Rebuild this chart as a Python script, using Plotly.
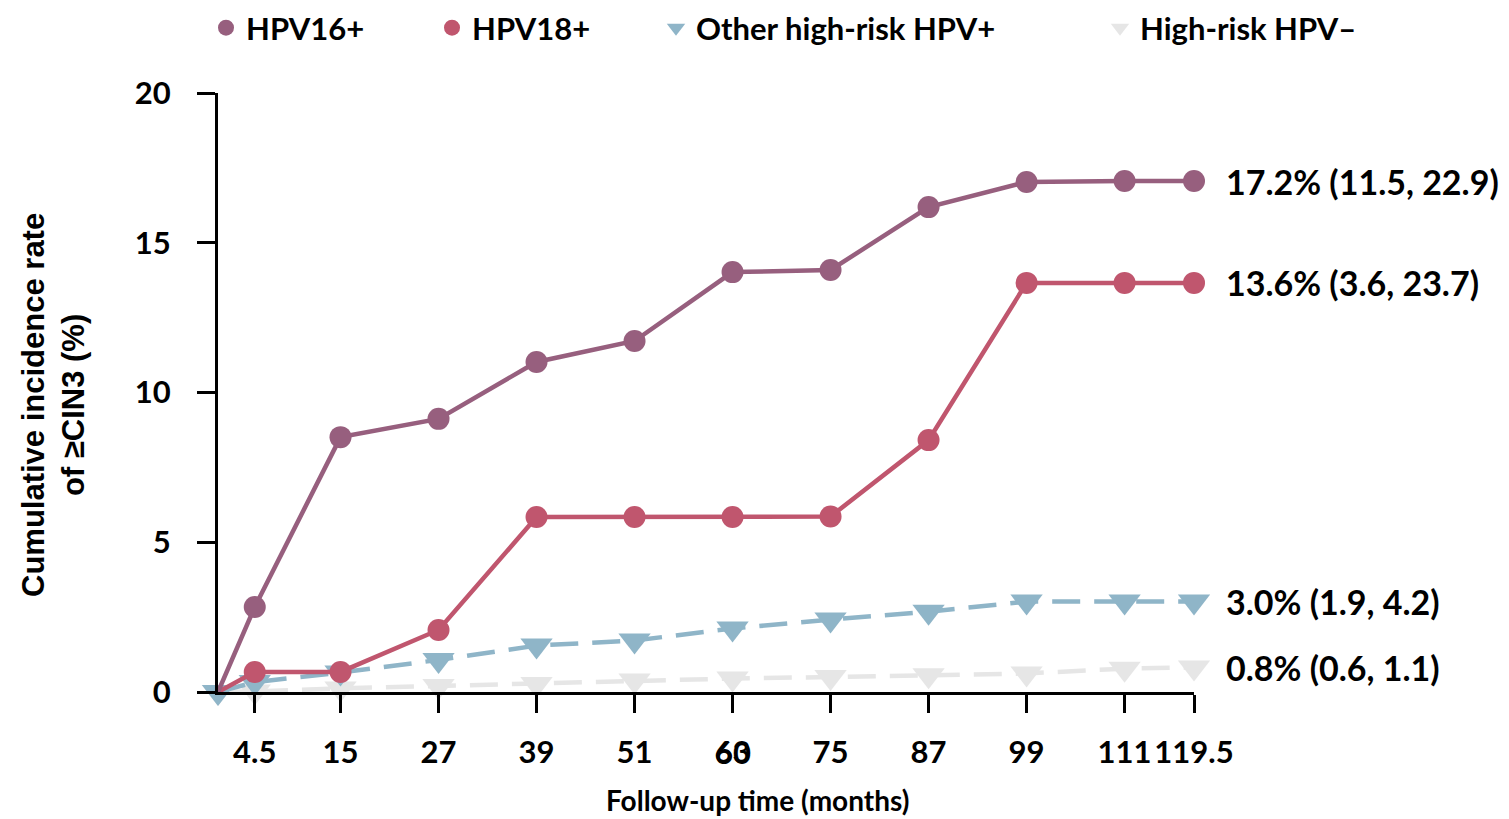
import plotly.graph_objects as go

months = [0, 4.5, 15, 27, 39, 51, 63, 75, 87, 99, 111, 119.5]
tick_vals = [4.5, 15, 27, 39, 51, 63, 75, 87, 99, 111, 119.5]
tick_text = ["4.5", "15", "27", "39", "51", "63", "75", "87", "99", "111", "119.5"]
overlap_label = "60"
overlap_at = 63

hpv16 = [0, 2.84, 8.51, 9.12, 11.02, 11.72, 14.02, 14.09, 16.19, 17.03, 17.06, 17.06]
hpv18 = [0, 0.67, 0.67, 2.07, 5.84, 5.84, 5.84, 5.86, 8.41, 13.66, 13.66, 13.66]
other_hr = [0, 0.33, 0.65, 1.07, 1.55, 1.72, 2.12, 2.42, 2.68, 3.02, 3.02, 3.02]
hr_neg = [0, 0.02, 0.12, 0.2, 0.27, 0.38, 0.45, 0.5, 0.56, 0.62, 0.78, 0.82]

end_labels = ["17.2% (11.5, 22.9)", "13.6% (3.6, 23.7)", "3.0% (1.9, 4.2)", "0.8% (0.6, 1.1)"]
names = ["HPV16+", "HPV18+", "Other high-risk HPV+", "High-risk HPV\u2013"]
colors = ["#975f7e", "#c0566e", "#8fb5c8", "#e6e6e6"]

FONT = "Lato"
TITLE_FONT = "Liberation Sans"
fig = go.Figure()

series = [hr_neg, other_hr, hpv18, hpv16]
idx = [3, 2, 1, 0]
for s, i in zip(series, idx):
    circle = i < 2
    sizes = [0] + [22] * (len(months) - 1) if circle else [28] * len(months)
    fig.add_trace(go.Scatter(
        x=months, y=s, mode="lines+markers", showlegend=False,
        line=dict(color=colors[i], width=4.5, dash="solid" if circle else "28px,14px"),
        marker=dict(symbol="circle" if circle else "triangle-down", size=sizes,
                    color=colors[i], opacity=1, line=dict(width=0)),
        cliponaxis=False,
    ))

# page offset: browser body margin of 8px
OFF = 8
W, H = 1509 - OFF, 819 - OFF
L, R, T, B = 218 - OFF, 315, 93 - OFF, 127
PW, PH = W - L - R, H - T - B

def px_x(page_x):
    return (page_x - OFF - L) / PW

def px_y(page_y):
    return (H - B - (page_y - OFF)) / PH

legend_x = [206, 432, 656, 1100]
for i in range(4):
    lg = "legend" if i == 0 else f"legend{i+1}"
    fig.add_trace(go.Scatter(
        x=[None], y=[None], mode="markers", name=names[i], legend=lg,
        marker=dict(symbol="circle" if i < 2 else "triangle-down", size=22, color=colors[i]),
    ))

ends = [hpv16[-1], hpv18[-1], other_hr[-1], hr_neg[-1]]
for i in range(4):
    fig.add_annotation(x=months[-1], y=ends[i], text=end_labels[i], showarrow=False,
                       xanchor="left", yanchor="middle", xshift=30,
                       font=dict(family=FONT, size=34, color="black", weight="bold"))

fig.add_annotation(x=overlap_at, y=0, yref="y", text=overlap_label, showarrow=False,
                   xanchor="center", yanchor="middle", yshift=-60,
                   font=dict(family=FONT, size=31, color="black", weight="bold"))

fig.add_annotation(x=px_x(757), y=px_y(800), xref="paper", yref="paper",
                   text="Follow-up time (months)", showarrow=False,
                   xanchor="center", yanchor="middle",
                   font=dict(family=FONT, size=28, color="black", weight="bold"))
fig.add_annotation(x=px_x(53), y=px_y(405), xref="paper", yref="paper",
                   text="Cumulative incidence rate<br>of \u2265CIN3 (%)", showarrow=False,
                   textangle=-90, xanchor="center", yanchor="middle",
                   font=dict(family=TITLE_FONT, size=31, color="black", weight="bold"))

layout_legends = {}
for i in range(4):
    key = "legend" if i == 0 else f"legend{i+1}"
    layout_legends[key] = dict(
        x=px_x(legend_x[i]), y=1 - (28 - OFF) / H, xanchor="left", yanchor="middle",
        yref="container", xref="paper", orientation="h",
        font=dict(family=FONT, size=31, color="black", weight="bold"),
        bgcolor="rgba(0,0,0,0)", itemwidth=30,
    )

fig.update_layout(
    width=W, height=H, margin=dict(l=L, r=R, t=T, b=B),
    plot_bgcolor="white", paper_bgcolor="white",
    font=dict(family=FONT, color="black"),
    xaxis=dict(range=[0, 119.5], showgrid=False, zeroline=False, showline=True,
               linecolor="black", linewidth=3, ticks="outside", ticklen=18, tickwidth=3,
               tickcolor="black", tickvals=tick_vals, ticktext=tick_text,
               ticklabelstandoff=13, automargin=False,
               tickfont=dict(family=FONT, size=31, color="black", weight="bold")),
    yaxis=dict(range=[0, 20], showgrid=False, zeroline=False, showline=True,
               linecolor="black", linewidth=3, ticks="outside", ticklen=18, tickwidth=3,
               tickcolor="black", tickvals=[0, 5, 10, 15, 20], ticklabelstandoff=20,
               automargin=False,
               tickfont=dict(family=FONT, size=31, color="black", weight="bold")),
    **layout_legends,
)

fig.write_html("out.html")
